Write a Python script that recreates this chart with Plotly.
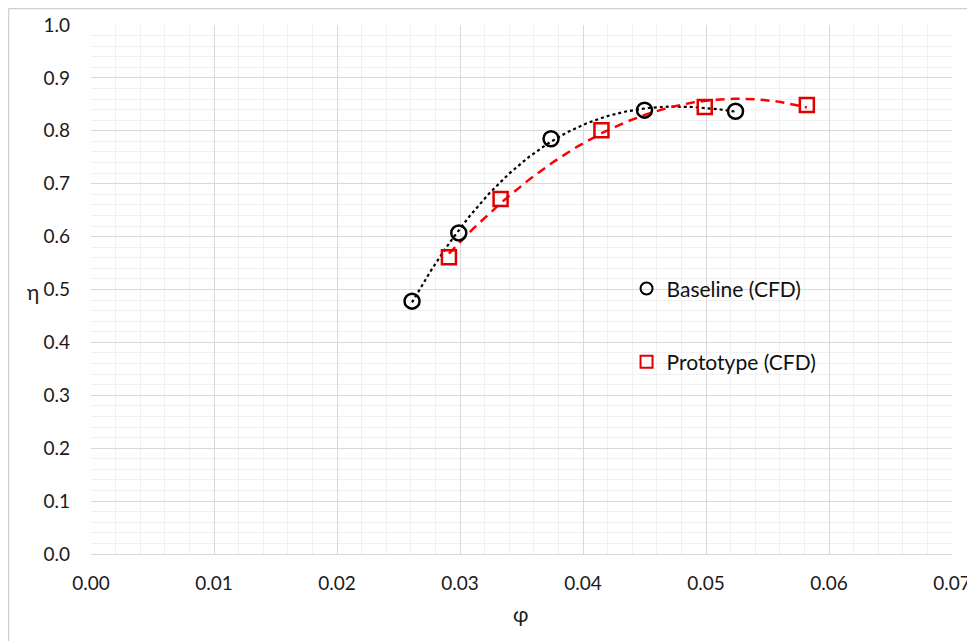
import numpy as np
import plotly.graph_objects as go

# Data
baseline_phi = [0.0261, 0.0299, 0.0374, 0.0450, 0.0524]
baseline_eta = [0.478, 0.607, 0.785, 0.839, 0.837]
proto_phi = [0.0291, 0.0333, 0.0415, 0.0499, 0.0582]
proto_eta = [0.561, 0.671, 0.801, 0.845, 0.849]

x_ticks = [0.00, 0.01, 0.02, 0.03, 0.04, 0.05, 0.06, 0.07]
y_ticks = [0.0, 0.1, 0.2, 0.3, 0.4, 0.5, 0.6, 0.7, 0.8, 0.9, 1.0]

FONT = "Lato"


def trend(xs, ys, deg=2, n=150):
    c = np.polyfit(xs, ys, deg)
    xx = np.linspace(min(xs), max(xs), n)
    return xx, np.polyval(c, xx)


fig = go.Figure()

bx, by = trend(baseline_phi, baseline_eta, deg=3)
px_, py_ = trend(proto_phi, proto_eta, deg=2)

fig.add_trace(go.Scatter(x=bx, y=by, mode="lines", showlegend=False,
                         line=dict(color="black", width=2.2, dash="dot"),
                         hoverinfo="skip"))
fig.add_trace(go.Scatter(x=px_, y=py_, mode="lines", showlegend=False,
                         line=dict(color="#ff0000", width=2.5, dash="9px,6px"),
                         hoverinfo="skip"))

fig.add_trace(go.Scatter(x=baseline_phi, y=baseline_eta, mode="markers",
                         name="Baseline (CFD)", legendgroup="a",
                         marker=dict(symbol="circle-open", size=15, color="black",
                                     line=dict(width=2.5, color="black"))))
fig.add_trace(go.Scatter(x=proto_phi, y=proto_eta, mode="markers",
                         name="Prototype (CFD)", legendgroup="b",
                         marker=dict(symbol="square-open", size=14, color="#e00000",
                                     line=dict(width=2.5, color="#e00000"))))

# page body has an 8px margin: figure is sized/offset to compensate
OFF = 8
FW, FH = 975 - OFF, 641 - OFF
ML = 91 - OFF
MT = 25 - OFF
MR = OFF + FW - 952
MB = OFF + FH - 554

fig.update_layout(
    width=FW, height=FH,
    margin=dict(l=ML, r=MR, t=MT, b=MB, autoexpand=False),
    paper_bgcolor="white", plot_bgcolor="white",
    font=dict(family=FONT, size=19, color="#1a1a1a"),
    showlegend=True,
    legend=dict(x=0.622, y=0.54, xanchor="left", yanchor="top",
                bgcolor="rgba(0,0,0,0)", font=dict(size=21, color="#111"),
                tracegroupgap=43, itemsizing="constant", itemwidth=30),
)

fig.update_xaxes(range=[0, 0.07], tickvals=x_ticks,
                 ticktext=[f"{v:.2f}" for v in x_ticks],
                 showgrid=True, gridcolor="#d9d9d9", gridwidth=1,
                 minor=dict(dtick=0.002, showgrid=True, gridcolor="#f0f0f0", gridwidth=1),
                 zeroline=False, showline=True, linecolor="#d9d9d9", linewidth=1,
                 ticks="", ticklabelstandoff=12, tickfont=dict(size=19),
                 ticklabeloverflow="allow", automargin=False)
fig.update_yaxes(range=[0, 1.0], tickvals=y_ticks,
                 ticktext=[f"{v:.1f}" for v in y_ticks],
                 showgrid=True, gridcolor="#d9d9d9", gridwidth=1,
                 minor=dict(dtick=0.02, showgrid=True, gridcolor="#f0f0f0", gridwidth=1),
                 zeroline=False, showline=False,
                 ticks="", ticklabelstandoff=20, tickfont=dict(size=19),
                 automargin=False)

W, H = FW - ML - MR, FH - MT - MB

# axis titles
fig.add_annotation(text="η", xref="paper", yref="paper",
                   x=(33 - 91) / W, y=(554 - 291) / H,
                   xanchor="center", yanchor="middle",
                   showarrow=False, font=dict(size=21, color="#1a1a1a"))
fig.add_annotation(text="φ", xref="paper", yref="paper",
                   x=(520 - 91) / W, y=(554 - 613) / H,
                   xanchor="center", yanchor="middle",
                   showarrow=False, font=dict(size=21, color="#1a1a1a"))

# chart border (top and left edges)
fig.add_shape(type="line", xref="paper", yref="paper",
              x0=(8.5 - 91) / W, x1=1 + MR / W, y0=(554 - 8.5) / H, y1=(554 - 8.5) / H,
              line=dict(color="#d0d0d0", width=1.5))
fig.add_shape(type="line", xref="paper", yref="paper",
              x0=(8.5 - 91) / W, x1=(8.5 - 91) / W, y0=-MB / H, y1=(554 - 8.5) / H,
              line=dict(color="#d0d0d0", width=1.5))

fig.write_html("out.html")
